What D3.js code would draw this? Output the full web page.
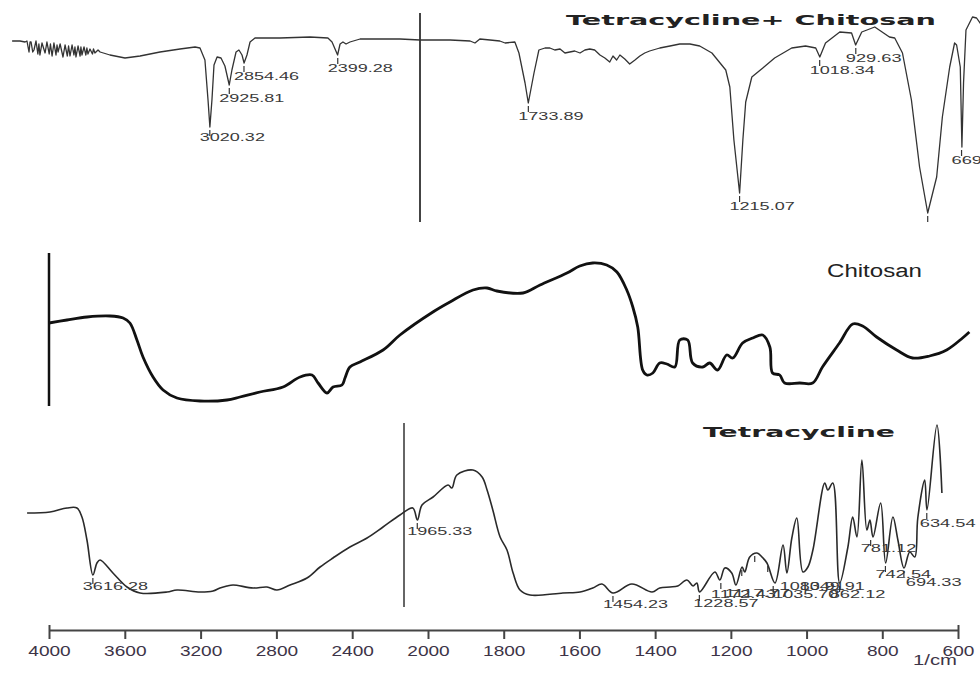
<!DOCTYPE html>
<html>
<head>
<meta charset="utf-8">
<script src="https://cdn.jsdelivr.net/npm/d3@7"></script>
<style>
  body { margin: 0; background: #fff; }
  svg { display: block; }
</style>
</head>
<body>
<svg id="chart" width="980" height="675"></svg>
<script>
// wavenumber (1/cm), relative transmittance
const comboSpectrum = [
  [3980, 89.5], [3942, 89.5], [3917, 89], [3908, 89.5], [3898, 84], [3893, 89],
  [3888, 89], [3880, 84], [3874, 85], [3864, 89.5], [3855, 83], [3850, 88],
  [3845, 82.5], [3835, 88.5], [3820, 83.5], [3811, 89], [3800, 83], [3794, 88],
  [3786, 82], [3777, 88.5], [3767, 82.5], [3762, 87.5], [3757, 84], [3747, 88],
  [3733, 81.5], [3723, 87.5], [3712, 82], [3706, 87], [3699, 82], [3689, 87.5],
  [3680, 82.5], [3675, 86.5], [3670, 81.5], [3660, 87], [3650, 82], [3646, 86.5],
  [3641, 82.5], [3631, 86.5], [3622, 82.5], [3617, 86], [3612, 83], [3602, 85.5],
  [3590, 83], [3585, 85.5], [3578, 83.5], [3563, 85], [3553, 84], [3505, 82.5],
  [3432, 81], [3359, 82], [3262, 84], [3165, 85.5], [3092, 86.5], [3068, 86],
  [3044, 80], [3029, 60], [3020, 46.5], [3010, 60], [3000, 77.5], [2985, 81.5],
  [2966, 81], [2947, 77], [2926, 67.5], [2913, 75], [2893, 84], [2879, 85],
  [2864, 82.5], [2854, 78.5], [2840, 82.5], [2825, 89], [2801, 91], [2680, 91],
  [2534, 91.5], [2447, 91], [2427, 89], [2400, 82.5], [2388, 88], [2374, 89],
  [2359, 88], [2340, 89], [2291, 90.5], [2194, 90.5], [2097, 90.5], [2000, 90],
  [1975, 90], [1926, 90], [1877, 89.5], [1865, 88.5], [1853, 90.5], [1828, 90],
  [1804, 89.5], [1791, 88.5], [1767, 89], [1757, 83.5], [1742, 68.5], [1734, 58.5],
  [1720, 73.5], [1708, 85], [1693, 86], [1681, 86], [1669, 85], [1656, 85.5],
  [1644, 83.5], [1632, 84], [1620, 84.5], [1607, 83.5], [1595, 85], [1583, 85.5],
  [1571, 85], [1558, 82.5], [1546, 81], [1534, 79], [1526, 82], [1517, 80],
  [1509, 82.5], [1497, 80.5], [1485, 78], [1472, 80], [1460, 82], [1448, 83.5],
  [1436, 84.5], [1411, 86], [1386, 87], [1362, 88], [1337, 88], [1313, 87],
  [1283, 83.5], [1249, 75], [1239, 66.5], [1229, 40], [1215, 13.5], [1207, 40],
  [1200, 59], [1185, 71.5], [1158, 76], [1129, 81], [1087, 86], [1053, 87],
  [1028, 86], [1018, 81.5], [1004, 88.5], [969, 94], [940, 93.5], [930, 87.5],
  [915, 94], [883, 96.5], [847, 91.5], [834, 91], [815, 83.5], [793, 60],
  [773, 26.5], [753, 3.5], [731, 21.5], [717, 51.5], [699, 76.5], [687, 88.5],
  [682, 87.5], [673, 76.5], [669, 36.5], [665, 68.5], [659, 95], [643, 101.5],
  [633, 101], [621, 97.5]
];

const chitosanSpectrum = [
  [4000, 43.5], [3905, 45], [3799, 46.5], [3678, 47], [3609, 46], [3573, 43.5],
  [3536, 35], [3504, 26.5], [3451, 16.5], [3398, 10], [3325, 6], [3203, 4.5],
  [3061, 5], [2992, 6.5], [2887, 9], [2765, 11.5], [2675, 16.5], [2612, 17.5],
  [2580, 13.5], [2533, 8.5], [2501, 11.5], [2454, 12.5], [2438, 16], [2412, 21.5],
  [2359, 24], [2237, 30], [2148, 37.5], [1987, 49], [1942, 54], [1881, 60],
  [1844, 61], [1818, 59.5], [1749, 58.5], [1704, 62.5], [1633, 68.5], [1599, 72],
  [1565, 73.5], [1528, 72.5], [1501, 69], [1475, 60], [1459, 51.5], [1446, 41.5],
  [1433, 20], [1422, 17.5], [1406, 18.5], [1388, 23.5], [1369, 23], [1348, 21.5],
  [1335, 35], [1314, 35], [1301, 23.5], [1274, 21.5], [1256, 23.5], [1235, 20],
  [1211, 27.5], [1195, 26], [1169, 33.5], [1142, 36], [1116, 37.5], [1097, 31.5],
  [1090, 18.5], [1071, 17.5], [1058, 13.5], [1018, 13.5], [984, 13.5], [958, 21.5],
  [913, 33.5], [878, 43], [852, 42], [815, 36.5], [762, 30], [720, 26],
  [675, 27], [630, 30], [588, 36], [570, 39]
];

const tetraSpectrum = [
  [3958, 48.5], [3839, 49], [3751, 51], [3699, 51], [3673, 46.5], [3647, 35],
  [3616, 17.5], [3595, 23.5], [3579, 25], [3512, 18.5], [3439, 11.5], [3371, 8.5],
  [3231, 9], [3179, 10], [3060, 9], [2992, 9.5], [2956, 11], [2920, 12],
  [2888, 12.5], [2784, 11], [2712, 11.5], [2660, 10], [2592, 12.5], [2504, 16],
  [2436, 21.5], [2369, 26], [2281, 31.5], [2192, 36], [2109, 41.5], [2021, 47.5],
  [1977, 51], [1965, 45], [1953, 52.5], [1924, 56.5], [1885, 62.5], [1875, 61],
  [1862, 67.5], [1820, 70], [1796, 66.5], [1783, 60], [1768, 50], [1749, 36.5],
  [1731, 30], [1715, 18.5], [1697, 10], [1671, 7.5], [1585, 8.5], [1540, 9],
  [1507, 11], [1483, 13], [1454, 8.5], [1405, 13], [1352, 9], [1332, 11],
  [1305, 11.5], [1285, 12], [1261, 15], [1245, 12], [1235, 13.5], [1228, 9],
  [1188, 19], [1175, 15], [1162, 21], [1144, 18.5], [1133, 12.5], [1117, 21.5],
  [1110, 19], [1097, 26.5], [1078, 28.5], [1065, 26.5], [1052, 23.5], [1031, 13.5],
  [1010, 32.5], [1000, 18.5], [987, 36], [974, 46], [958, 19], [945, 21.5],
  [932, 30], [901, 63.5], [893, 60], [880, 63.5], [862, 13.5], [841, 31],
  [828, 46.5], [817, 36.5], [804, 75], [791, 40], [783, 45], [775, 36.5],
  [755, 53.5], [742, 23.5], [723, 46.5], [710, 35], [694, 21], [679, 29],
  [666, 26.5], [658, 46], [640, 65], [634, 50], [608, 92.5], [595, 58.5]
];

const comboPeaks = [
  '3020.32', '2925.81', '2854.46', '2399.28', '1733.89', '1215.07',
  '1018.34', '929.63', '669.86', '753.00'
];
const tetraPeaks = [
  '3616.28', '1965.33', '1454.23', '1228.57', '1172.43', '1117.77',
  '1083.91', '1035.70', '1049.91', '862.12', '781.12', '742.54', '694.33', '634.54'
];
const axisTicks = [4000, 3600, 3200, 2800, 2400, 2000, 1800, 1600, 1400, 1200, 1000, 800, 600];

const svg = d3.select('#chart');

// each panel has its own x frame; ticks are evenly spaced, so 4000-2000 is squeezed
const panels = [
  {
    data: comboSpectrum, peaks: comboPeaks,
    x: d3.scaleLinear().domain([4000, 2000, 600]).range([8, 420, 990]),
    y: d3.scaleLinear().domain([0, 100]).range([220, 20]),
    marker: {x: 420, y1: 13, y2: 222, color: '#444', width: 2},
    stroke: '#333', strokeWidth: 1.3, labelGap: 17,
    curve: d3.curveLinear,
  },
  {
    data: chitosanSpectrum, peaks: [],
    x: d3.scaleLinear().domain([4000, 2000, 600]).range([49, 428, 958]),
    y: d3.scaleLinear().domain([0, 80]).range([410, 250]),
    marker: {x: 49, y1: 253, y2: 406, color: '#111', width: 2.5},
    stroke: '#111', strokeWidth: 2.8,
    curve: d3.curveCatmullRom.alpha(0.5),
  },
  {
    data: tetraSpectrum, peaks: tetraPeaks,
    x: d3.scaleLinear().domain([4000, 2000, 600]).range([19, 404, 940]),
    y: d3.scaleLinear().domain([0, 100]).range([610, 410]),
    marker: {x: 404, y1: 423, y2: 607, color: '#666', width: 2},
    stroke: '#2a2a2a', strokeWidth: 1.6, labelGap: 15,
    curve: d3.curveCatmullRom.alpha(0.5),
  },
];

// label nudges [dx, dy, tick dy] where the printout crowded them
const labelNudge = {
  '3020.32': [0, -3, 0],
  '1172.43': [0, 3, 0], '1117.77': [-7, 15, 0], '1035.70': [10, 0, 0],
  '1083.91': [35, 22, 0], '1049.91': [42, 12, 0],
  '781.12': [0, 17, 17], '694.33': [12, 3, 0], '634.54': [3, 2, 0],
  '1228.57': [4, 0, 0],
};

panels.forEach(p => {
  const g = svg.append('g');

  g.append('line')
    .attr('x1', p.marker.x).attr('x2', p.marker.x)
    .attr('y1', p.marker.y1).attr('y2', p.marker.y2)
    .attr('stroke', p.marker.color).attr('stroke-width', p.marker.width);

  const line = d3.line()
    .x(d => p.x(d[0]))
    .y(d => p.y(d[1]))
    .curve(p.curve);

  g.append('path')
    .datum(p.data)
    .attr('d', line)
    .attr('fill', 'none')
    .attr('stroke', p.stroke)
    .attr('stroke-width', p.strokeWidth)
    .attr('stroke-linejoin', 'round');

  p.peaks.forEach(label => {
    const wn = +label;
    const nearest = d3.least(p.data, d => Math.abs(d[0] - wn));
    const nudge = labelNudge[label] || [0, 0, 0];
    const px = p.x(wn);
    const py = p.y(nearest[1]);
    g.append('line')
      .attr('x1', px).attr('x2', px)
      .attr('y1', py + 3 + nudge[2]).attr('y2', py + 9 + nudge[2])
      .attr('stroke', '#333').attr('stroke-width', 1.2);
    if (label === '753.00') return; // label falls outside the frame
    g.append('text')
      .attr('x', px - 10 + nudge[0])
      .attr('y', py + p.labelGap + nudge[1])
      .attr('font-family', 'Liberation Sans, Arial, sans-serif')
      .attr('font-size', 10.5)
      .attr('textLength', label.length * 9.3)
      .attr('lengthAdjust', 'spacingAndGlyphs')
      .attr('fill', '#3a3a3a')
      .text(label);
  });
});

// panel names
svg.append('text')
  .attr('x', 566).attr('y', 25)
  .attr('font-family', 'DejaVu Sans, sans-serif')
  .attr('font-weight', 'bold').attr('font-size', 14)
  .attr('textLength', 370).attr('lengthAdjust', 'spacingAndGlyphs')
  .attr('fill', '#222')
  .text('Tetracycline+ Chitosan');

svg.append('text')
  .attr('x', 827).attr('y', 277)
  .attr('font-family', 'Liberation Sans, Arial, sans-serif')
  .attr('font-size', 18)
  .attr('textLength', 95).attr('lengthAdjust', 'spacingAndGlyphs')
  .attr('fill', '#222')
  .text('Chitosan');

svg.append('text')
  .attr('x', 703).attr('y', 437)
  .attr('font-family', 'DejaVu Sans, sans-serif')
  .attr('font-weight', 'bold').attr('font-size', 14)
  .attr('textLength', 192).attr('lengthAdjust', 'spacingAndGlyphs')
  .attr('fill', '#222')
  .text('Tetracycline');

// wavenumber axis
const xAxisScale = d3.scaleLinear().domain([4000, 2000, 600]).range([49, 428, 958]);
const axis = svg.append('g')
  .attr('transform', 'translate(0,630)')
  .call(d3.axisBottom(xAxisScale)
    .tickValues(axisTicks)
    .tickFormat(d3.format('d'))
    .tickSize(9)
    .tickSizeOuter(0)
    .tickPadding(6));

axis.select('.domain').attr('stroke', '#444').attr('stroke-width', 2);
axis.selectAll('.tick line').attr('stroke', '#444').attr('stroke-width', 2)
  .attr('y1', d => (d === 4000 || d === 600) ? -5 : 0);
axis.selectAll('.tick text')
  .attr('font-family', 'Liberation Sans, Arial, sans-serif')
  .attr('font-size', 15.5)
  .attr('textLength', d => String(d).length * 10.6)
  .attr('lengthAdjust', 'spacingAndGlyphs')
  .attr('fill', '#3d3447');

svg.append('text')
  .attr('x', 913).attr('y', 665)
  .attr('font-family', 'Liberation Sans, Arial, sans-serif')
  .attr('font-size', 15)
  .attr('textLength', 44).attr('lengthAdjust', 'spacingAndGlyphs')
  .attr('fill', '#3d3447')
  .text('1/cm');
</script>
</body>
</html>
